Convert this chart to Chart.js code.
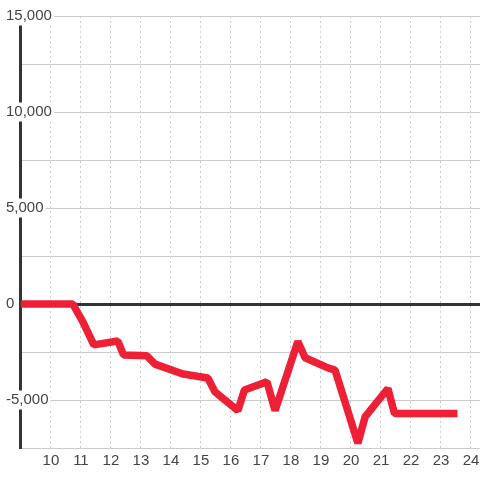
<!DOCTYPE html>
<html>
<head>
<meta charset="utf-8">
<script src="https://cdn.jsdelivr.net/npm/chart.js@4/dist/chart.umd.min.js"></script>
<style>
  html, body { margin: 0; padding: 0; background: #ffffff; }
  #wrap { width: 480px; height: 480px; }
</style>
</head>
<body>
<div id="wrap"><canvas id="lineChart"></canvas></div>
<script>
const xValues = [9, 10.73, 11.07, 11.43, 12.23, 12.42, 13.2, 13.47, 14.4, 15.23, 15.47, 16.23, 16.45, 17.2, 17.47, 18.23, 18.47, 19.23, 19.47, 20.23, 20.47, 21.23, 21.45, 23.55];
const yValues = [0, 0, -940, -2130, -1930, -2650, -2700, -3130, -3650, -3850, -4580, -5550, -4480, -4050, -5550, -1950, -2800, -3330, -3440, -7250, -5880, -4400, -5700, -5700];
const yLabelEvery = 5000;

const TEXT = '#444444';
const FONT = { family: 'Liberation Sans, Arial, sans-serif', size: 15 };

function buildPoints(){
    const points = [];
    for (let i = 0; i < xValues.length; i++) {
        points.push({ x: xValues[i], y: yValues[i] });
    }
    return points;
}

const ctx = document.getElementById('lineChart').getContext('2d');
new Chart(ctx, {
    type: 'line',
    data: {
        datasets: [{
            data: buildPoints(),
            borderColor: '#ED2035',
            borderWidth: 7.5,
            borderJoinStyle: 'bevel',
            pointRadius: 0,
            tension: 0,
            fill: false
        }]
    },
    options: {
        responsive: true,
        maintainAspectRatio: false,
        animation: false,
        layout: { padding: { left: 5, top: 16, right: 0, bottom: 7 } },
        plugins: {
            legend: { display: false },
            tooltip: { enabled: false }
        },
        scales: {
            x: {
                type: 'linear',
                min: 8.97,
                max: 24.3,
                border: { display: false, dash: [2, 3] },
                grid: {
                    color: '#cccccc',
                    lineWidth: 1,
                    drawTicks: false
                },
                ticks: {
                    stepSize: 1,
                    includeBounds: false,
                    autoSkip: false,
                    maxRotation: 0,
                    padding: 0,
                    color: TEXT,
                    font: { ...FONT, lineHeight: '25px' },
                    callback: (value) => value < 10 ? '' : String(value)
                }
            },
            y: {
                min: -7500,
                max: 15000,
                afterFit: (scale) => { scale.width = 15; },
                border: { display: true, color: '#333333', width: 3 },
                grid: {
                    color: (c) => c.tick && c.tick.value === 0 ? '#333333' : '#cccccc',
                    lineWidth: (c) => c.tick && c.tick.value === 0 ? 3 : 1,
                    drawTicks: false
                },
                ticks: {
                    stepSize: 2500,
                    includeBounds: false,
                    autoSkip: false,
                    mirror: true,
                    padding: -14,
                    crossAlign: 'near',
                    color: TEXT,
                    font: FONT,
                    showLabelBackdrop: (c) => c.tick && c.tick.value % yLabelEvery === 0,
                    backdropColor: '#ffffff',
                    backdropPadding: { top: 0.5, bottom: 0.5, left: 2, right: 2 },
                    callback: (value) => value % yLabelEvery === 0 ? value.toLocaleString('en-US') : ''
                }
            }
        }
    }
});
</script>
</body>
</html>
